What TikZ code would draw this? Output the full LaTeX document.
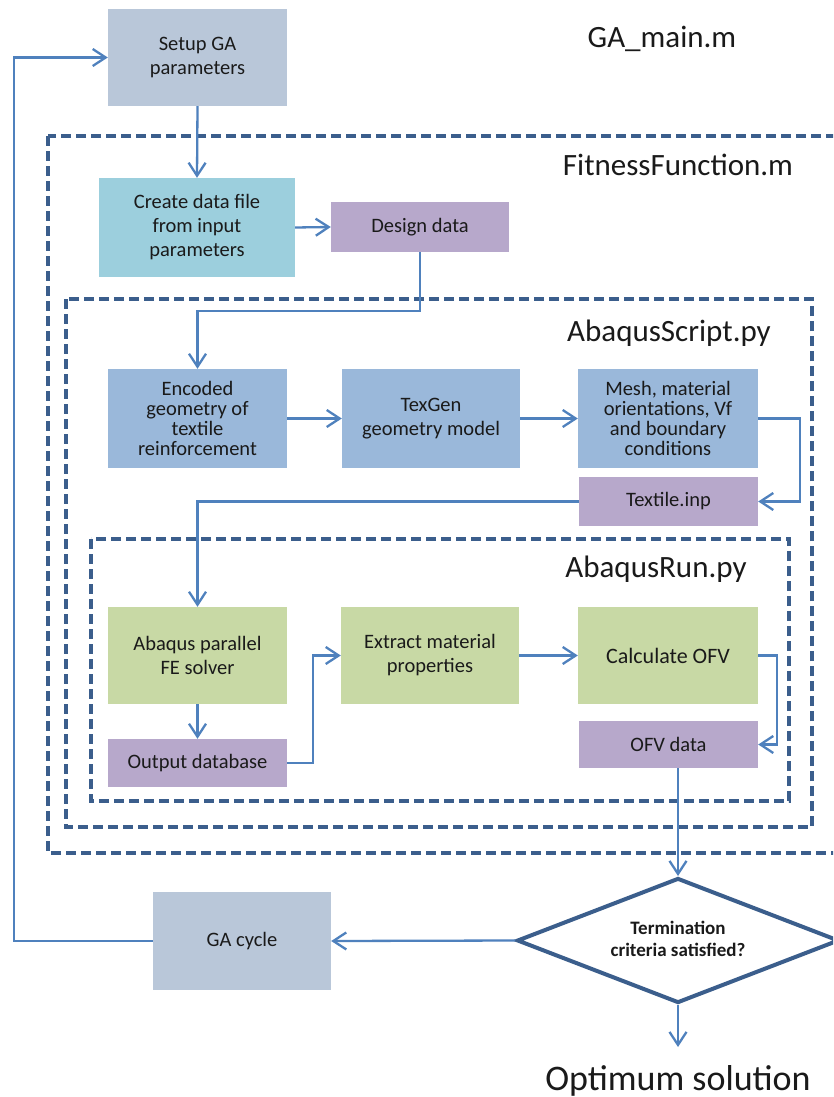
\documentclass[tikz,border=0pt]{standalone}
\usepackage{fontspec}
\setmainfont{Carlito}
\usetikzlibrary{arrows.meta,shapes.geometric}
\definecolor{cGA}{HTML}{B9C7D9}
\definecolor{cCyan}{HTML}{9CCFDD}
\definecolor{cPurple}{HTML}{B7A8CB}
\definecolor{cBlue}{HTML}{9AB8DA}
\definecolor{cGreen}{HTML}{C8D9A5}
\definecolor{arrc}{HTML}{4F81BD}
\definecolor{dashc}{HTML}{3B5E8C}
\definecolor{txt}{HTML}{1A1A1A}
\begin{document}
\begin{tikzpicture}[x=1pt,y=-1pt,
  box/.style={rectangle, inner sep=0pt, align=center, text=txt,
    font=\fontsize{20.5}{24}\selectfont},
  tight/.style={font=\fontsize{20.5}{20}\selectfont},
  arr/.style={draw=arrc, line width=2.3pt, -{Straight Barb[length=13pt,width=17pt]}},
  dashbox/.style={draw=dashc, line width=4pt, dash pattern=on 10pt off 5pt},
  head/.style={anchor=base, inner sep=0pt, text=txt, font=\fontsize{31}{37}\selectfont}]
\clip (0,0) rectangle (833,1097);
\fill[white] (0,0) rectangle (833,1097);

% dashed containers
\draw[dashbox] (48,136) rectangle (850,853);
\draw[dashbox] (66,299) rectangle (812,827);
\draw[dashbox] (91,539) rectangle (789,801);

% headings
\node[head] (hmain) at (662,48) {GA\_main.m};
\node[head] (hfit) at (678,175) {FitnessFunction.m};
\node[head] (hscript) at (669,341) {AbaqusScript.py};
\node[head] (hrun) at (656,577) {AbaqusRun.py};
\node[head, font=\fontsize{36}{43}\selectfont] (hopt) at (678,1090) {Optimum solution};

% boxes
\node[box, fill=cGA, minimum width=179pt, minimum height=97pt] (setup) at (197.5,57.5) {Setup GA\\parameters};
\node[box, fill=cCyan, minimum width=196pt, minimum height=99pt] (create) at (197,227.5) {Create data file\\from input\\parameters};
\node[box, fill=cPurple, minimum width=178pt, minimum height=50pt] (design) at (420,227) {Design data};
\node[box, tight, fill=cBlue, minimum width=179pt, minimum height=99pt] (encoded) at (197.5,418.5) {Encoded\\geometry of\\textile\\reinforcement};
\node[box, fill=cBlue, minimum width=178pt, minimum height=99pt] (texgen) at (431,418.5) {TexGen\\geometry model};
\node[box, tight, fill=cBlue, minimum width=180pt, minimum height=99pt] (mesh) at (668,418.5) {Mesh, material\\orientations, Vf\\and boundary\\conditions};
\node[box, fill=cPurple, minimum width=179pt, minimum height=49pt] (textile) at (668.5,501.5) {Textile.inp};
\node[box, fill=cGreen, minimum width=179pt, minimum height=97pt] (abpar) at (197.5,655.5) {Abaqus parallel\\FE solver};
\node[box, fill=cGreen, minimum width=178pt, minimum height=97pt] (extract) at (430,655.5) {Extract material\\properties};
\node[box, fill=cGreen, minimum width=180pt, minimum height=97pt, font=\fontsize{22}{26}\selectfont] (calc) at (668,655.5) {\raisebox{-6pt}{Calculate OFV}};
\node[box, fill=cPurple, minimum width=179pt, minimum height=47pt] (ofv) at (668.5,744.5) {OFV data};
\node[box, fill=cPurple, minimum width=179pt, minimum height=48pt] (output) at (197.5,763) {Output database};
\node[box, fill=cGA, minimum width=178pt, minimum height=98pt] (gacycle) at (242,941) {GA cycle};
\node[diamond, draw=dashc, line width=4pt, fill=white, aspect=2.576, inner sep=0pt,
  minimum width=322pt, minimum height=125pt, text=txt,
  font=\fontsize{19}{24}\selectfont\bfseries] (dia) at (678,940.5)
  {\raisebox{-6pt}{\begin{tabular}{@{}c@{}}Termination\\[-2pt]criteria satisfied?\end{tabular}}};
\coordinate (optend) at (678,1047);

% connectors
\draw[arr] (setup.south) -- (create.north);
\draw[arr] (create.east) -- (design.west);
\draw[arr] (design.south) -- ++(0,59) -| (encoded.north);
\draw[arr] (encoded.east) -- (texgen.west);
\draw[arr] (texgen.east) -- (mesh.west);
\draw[arr] (mesh.east) -- ++(42,0) |- (textile.east);
\draw[arr] (textile.west) -| (abpar.north);
\draw[arr] (abpar.south) -- (output.north);
\draw[arr] (output.east) -- ++(26,0) |- (extract.west);
\draw[arr] (extract.east) -- (calc.west);
\draw[arr] (calc.east) -- ++(19,0) |- (ofv.east);
\draw[arr] (ofv.south -| dia.north) -- (dia.north);
\draw[arr] (dia.west) -- (gacycle.east);
\draw[arr] (dia.south) -- (optend);
\draw[arr] (gacycle.west) -- ++(-139,0) |- (setup.west);
\end{tikzpicture}
\end{document}
